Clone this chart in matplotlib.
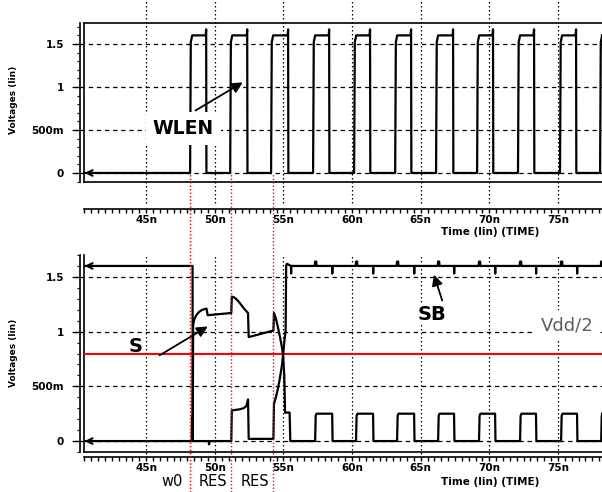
import matplotlib
matplotlib.use('Agg')
import matplotlib.pyplot as plt
from matplotlib.ticker import FixedLocator, FixedFormatter, MultipleLocator
from matplotlib.transforms import blended_transform_factory as blend

W, H = 602, 492

# time window (ns) and axis labels
t_start, t_end = 40.47, 78.21
xtick_vals = [45, 50, 55, 60, 65, 70, 75]
xtick_labels = ['45n', '50n', '55n', '60n', '65n', '70n', '75n']
ytick_vals = [0, 0.5, 1.0, 1.5]
ytick_labels = ['0', '500m', '1', '1.5']

# WLEN pulse edges (ns) and levels (V)
wlen_rise = [48.20, 51.12, 54.10, 57.16, 60.15, 63.14, 66.12, 69.11, 72.09, 75.15, 78.07]
wlen_fall = [49.37, 52.36, 55.34, 58.33, 61.31, 64.30, 67.36, 70.27, 73.26, 76.32]
wlen_high, wlen_peak = 1.6, 1.67

# S: transient up to ~55.5 ns, then small pulses
s_t = [40.47, 48.38, 48.39, 48.42, 48.5, 48.65, 48.85, 49.1, 49.4, 49.48, 51.2, 51.24,
       51.45, 51.7, 51.95, 52.2, 52.42, 52.47, 54.27, 54.31, 54.45, 54.6, 54.75, 54.9,
       54.98, 55.06, 55.12, 55.45, 55.5]
s_v = [1.6, 1.6, 0.0, 1.06, 1.11, 1.15, 1.18, 1.2, 1.21, 1.15, 1.17, 1.32,
       1.31, 1.28, 1.24, 1.2, 1.17, 0.95, 1.01, 1.17, 1.12, 1.04, 0.95, 0.85,
       0.78, 0.6, 0.26, 0.26, 0.0]
s_pulse_rise = [57.31, 60.29, 63.28, 66.27, 69.25, 72.24, 75.23, 78.15]
s_pulse_fall = [58.55, 61.53, 64.52, 67.43, 70.42, 73.40, 76.39]
s_pulse_high = 0.25

# SB: transient up to ~55.25 ns, then high with small glitches
sb_t = [40.47, 48.32, 48.34, 48.37, 49.55, 49.58, 49.62, 51.2, 51.24, 51.8, 52.1, 52.3,
        52.42, 52.47, 54.27, 54.31, 54.45, 54.6, 54.75, 54.9, 55.0, 55.1, 55.16, 55.2, 55.25]
sb_v = [0.0, 0.0, 0.22, 0.0, 0.0, -0.03, 0.0, 0.0, 0.28, 0.29, 0.3, 0.32,
        0.38, 0.02, 0.02, 0.34, 0.4, 0.48, 0.58, 0.7, 0.82, 0.95, 1.0, 1.6, 1.62]
sb_high, sb_bump, sb_dip = 1.6, 1.64, 1.53
sb_dip_times = [55.55] + s_pulse_fall

phase_marks = [48.2, 51.2, 54.27]
phase_names = ['w0', 'RES', 'RES']
phase_pos = [46.9, 49.9, 52.9]
vdd_half = 0.8

BOLD = dict(family='DejaVu Sans', weight='bold')


def wlen_trace():
    t, v = [t_start], [0.0]
    for i, r in enumerate(wlen_rise):
        t += [r, r + 0.05, r + 0.15]
        v += [0.0, 1.52, wlen_high]
        if i < len(wlen_fall):
            f = wlen_fall[i]
            t += [f - 0.03, f, f + 0.02]
            v += [wlen_high, wlen_peak, 0.0]
    t.append(t_end)
    v.append(v[-1])
    return t, v


def s_trace():
    t, v = list(s_t), list(s_v)
    for i, r in enumerate(s_pulse_rise):
        t += [r, r + 0.04, r + 0.1]
        v += [0.0, s_pulse_high - 0.02, s_pulse_high]
        if i < len(s_pulse_fall):
            f = s_pulse_fall[i]
            t += [f, f + 0.03]
            v += [s_pulse_high, 0.0]
    t.append(t_end)
    v.append(v[-1])
    return t, v


def sb_trace():
    t, v = list(sb_t), list(sb_v)
    events = [(r, 'bump') for r in s_pulse_rise] + [(f, 'dip') for f in sb_dip_times]
    for tt, kind in sorted(events):
        if kind == 'bump':
            t += [tt - 0.03, tt, tt + 0.08, tt + 0.1]
            v += [sb_high, sb_bump, sb_bump, sb_high]
        else:
            t += [tt, tt + 0.01, tt + 0.02]
            v += [sb_high, sb_dip, sb_high]
    t.append(t_end)
    v.append(sb_high)
    return t, v


fig = plt.figure(figsize=(W / 100, H / 100), dpi=100)


def px_axes(left, top, right, bottom):
    return fig.add_axes([left / W, 1 - bottom / H, (right - left) / W, (bottom - top) / H])


def style(ax, ylim, top_px, bottom_px, tick_gap_px, grid_top_px, grid_bot_px, box_top):
    ax.set_xlim(t_start, t_end)
    ax.set_ylim(*ylim)
    ax.spines['right'].set_visible(False)
    ax.spines['top'].set_visible(box_top)
    ax.spines['top'].set_linewidth(1.2)
    ax.spines['left'].set_position(('outward', 4 * 0.72))
    ax.spines['bottom'].set_position(('outward', tick_gap_px * 0.72))
    for s in ('left', 'bottom'):
        ax.spines[s].set_linewidth(1.2)
    # box lines
    ax.axhline(ylim[0], color='k', lw=1.2, clip_on=False, zorder=2)
    ax.axvline(t_start, color='k', lw=1.2, clip_on=False, zorder=2)

    ax.xaxis.set_major_locator(FixedLocator(xtick_vals))
    ax.xaxis.set_major_formatter(FixedFormatter(xtick_labels))
    ax.xaxis.set_minor_locator(MultipleLocator(0.5))
    ax.yaxis.set_major_locator(FixedLocator(ytick_vals))
    ax.yaxis.set_major_formatter(FixedFormatter(ytick_labels))
    ax.yaxis.set_minor_locator(MultipleLocator(0.1))
    ax.tick_params(axis='x', which='both', direction='out', length=2.6, width=1, pad=2,
                   labelsize=7.5)
    ax.tick_params(axis='y', which='major', direction='out', length=3.6, width=1, pad=8,
                   labelsize=7.5)
    ax.tick_params(axis='y', which='minor', direction='out', length=2.2, width=0.8)
    for lab in ax.get_xticklabels() + ax.get_yticklabels():
        lab.set_fontweight('bold')
        lab.set_family('DejaVu Sans')

    h = bottom_px - top_px
    g0 = (bottom_px - grid_bot_px) / h
    g1 = (bottom_px - grid_top_px) / h
    ax.vlines(xtick_vals, g0, g1, transform=blend(ax.transData, ax.transAxes),
              colors='k', linestyles=(0, (1.2, 2.0)), lw=0.9, clip_on=False, zorder=1)
    ax.hlines(ytick_vals, -0.023, 1.0, transform=blend(ax.transAxes, ax.transData),
              colors='k', linestyles=(0, (3.5, 3.0)), lw=0.9, clip_on=False, zorder=1)


def chevron(ax, v):
    ax.annotate('', xy=(t_start + 0.05, v), xytext=(t_start + 0.5, v),
                arrowprops=dict(arrowstyle='->', color='k', lw=1.5, shrinkA=0, shrinkB=0,
                                mutation_scale=10), annotation_clip=False, zorder=4)


# ---- top panel: WLEN
ax1 = px_axes(84, 23, 602, 182)
style(ax1, (-0.105, 1.744), 23, 182, 27, 0, 203, True)
wt, wv = wlen_trace()
ax1.plot(wt, wv, color='k', lw=1.6, zorder=3, clip_on=False)
chevron(ax1, 0.0)
ax1.annotate('', xy=(52.21, 1.07), xytext=(48.42, 0.71),
             arrowprops=dict(arrowstyle='-|>', color='k', lw=1.3, mutation_scale=16),
             zorder=7)
ax1.text(47.7, 0.52, 'WLEN', fontsize=13.5, ha='center', va='center', zorder=6,
         bbox=dict(facecolor='white', edgecolor='none', pad=5), **BOLD)

# ---- bottom panel: S / SB
ax2 = px_axes(84, 255, 602, 452)
style(ax2, (-0.10, 1.70), 255, 452, 5, 255, 458, False)
ax2.axhline(vdd_half, color='#ff0000', lw=1.5, zorder=2)
st, sv = s_trace()
bt, bv = sb_trace()
ax2.plot(st, sv, color='k', lw=1.6, zorder=3)
ax2.plot(bt, bv, color='k', lw=1.6, zorder=3)
chevron(ax2, 1.6)
chevron(ax2, 0.0)
ax2.annotate('', xy=(49.66, 1.06), xytext=(45.8, 0.77),
             arrowprops=dict(arrowstyle='-|>', color='k', lw=1.3, mutation_scale=16),
             zorder=7)
ax2.text(44.2, 0.86, 'S', fontsize=14, ha='center', va='center', zorder=6, **BOLD)
ax2.annotate('', xy=(65.9, 1.545), xytext=(66.63, 1.26),
             arrowprops=dict(arrowstyle='-|>', color='k', lw=1.3, mutation_scale=16),
             zorder=7)
ax2.text(65.83, 1.156, 'SB', fontsize=14, ha='center', va='center', zorder=6,
         bbox=dict(facecolor='white', edgecolor='none', pad=1), **BOLD)
ax2.text(75.66, 1.06, 'Vdd/2', fontsize=13, color='#5e5e5e', ha='center', va='center',
         family='DejaVu Sans', zorder=6,
         bbox=dict(facecolor='white', edgecolor='none', pad=4))

# red phase markers spanning both panels
ax2.vlines(phase_marks, 0.0, 1 - 173 / H, transform=blend(ax2.transData, fig.transFigure),
           colors='#ff0000', linestyles=(0, (1.0, 1.5)), lw=1.0, clip_on=False, zorder=8)
for x, name in zip(phase_pos, phase_names):
    ax2.text(x, 1 - 482 / H, name, transform=blend(ax2.transData, fig.transFigure),
             fontsize=10.5, ha='center', va='center', family='DejaVu Sans')

# axis titles
for yc in (100, 353):
    fig.text(13 / W, 1 - yc / H, 'Voltages (lin)', rotation=90, fontsize=6.5,
             ha='center', va='center', **BOLD)
for yc in (232, 482):
    fig.text(490 / W, 1 - yc / H, 'Time (lin) (TIME)', fontsize=7.5,
             ha='center', va='center', **BOLD)

fig.savefig('out.png', dpi=100)
